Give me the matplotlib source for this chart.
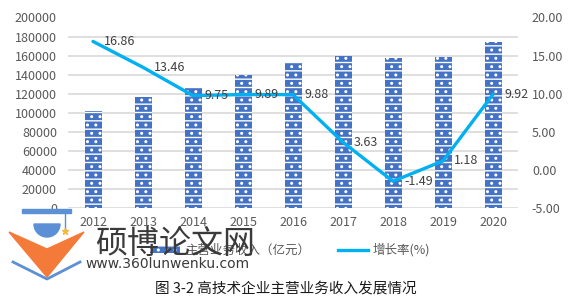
import matplotlib
matplotlib.use("Agg")
import matplotlib.pyplot as plt
from matplotlib.patches import Patch, Polygon, Wedge
from matplotlib.lines import Line2D

plt.rcParams['font.family'] = ['Noto Sans CJK SC', 'DejaVu Sans']
plt.rcParams['hatch.linewidth'] = 1.0

years = ['2012', '2013', '2014', '2015', '2016', '2017', '2018', '2019', '2020']
revenue = [102284, 116049, 127368, 139969, 153796, 159376, 157001, 158849, 174613]
growth = [16.86, 13.46, 9.75, 9.89, 9.88, 3.63, -1.49, 1.18, 9.92]
left_ticks = list(range(0, 200001, 20000))
right_ticks = [-5, 0, 5, 10, 15, 20]

tick_color = '#595959'
bar_color = '#4472C4'
line_color = '#00B0F0'
bar_hatch = '--..'

fig = plt.figure(figsize=(5.72, 3.0), dpi=100)
ax = fig.add_axes([68 / 572, 92 / 300, 450 / 572, 190.5 / 300])
x = range(len(years))

ax.bar(x, revenue, width=0.34, color=bar_color, edgecolor='white',
       hatch=bar_hatch, linewidth=0, zorder=2)
ax.set_xlim(-0.5, len(years) - 0.5)
ax.set_ylim(0, 200000)
ax.set_yticks(left_ticks)
ax.set_yticklabels([str(v) for v in left_ticks])
ax.set_xticks(list(x))
ax.set_xticklabels(years)
ax.grid(axis='y', color='#D9D9D9', linewidth=1.2, zorder=0)
ax.set_axisbelow(True)
for s in ax.spines.values():
    s.set_visible(False)
ax.tick_params(length=0, colors=tick_color, labelsize=9)
ax.tick_params(axis='x', pad=6)
ax.tick_params(axis='y', pad=8)

ax2 = ax.twinx()
ax2.plot(list(x), growth, color=line_color, linewidth=2.4, solid_capstyle='round',
         solid_joinstyle='round')
ax2.set_ylim(-5, 20)
ax2.set_yticks(right_ticks)
ax2.set_yticklabels(['%.2f' % v for v in right_ticks])
for s in ax2.spines.values():
    s.set_visible(False)
ax2.tick_params(length=0, colors=tick_color, labelsize=9, pad=10)
for i, g in enumerate(growth):
    ax2.annotate('%.2f' % g, (i, g), xytext=(8, 0), textcoords='offset points',
                 ha='left', va='center', fontsize=9, color='#404040')

handles = [Patch(facecolor=bar_color, edgecolor='white', hatch=bar_hatch, linewidth=0),
           Line2D([0], [0], color=line_color, linewidth=2.4)]
fig.legend(handles, ['主营业务收入（亿元）', '增长率(%)'], loc='center',
           bbox_to_anchor=(290 / 572, 1 - 250 / 300), ncol=2, frameon=False,
           fontsize=9, labelcolor=tick_color, handlelength=2.4, handleheight=0.5,
           handletextpad=0.4, columnspacing=2.2)

fig.text(0.5, 1 - 289 / 300, '图 3-2 高技术企业主营业务收入发展情况', ha='center', va='center',
         fontsize=10.5, color='#1a1a1a')

# watermark overlay
wm = fig.add_axes([0, 0, 1, 1], zorder=10)
wm.set_xlim(0, 572)
wm.set_ylim(300, 0)
wm.axis('off')
wm.add_patch(Polygon([(9, 232), (47, 249), (84, 232), (47, 277)], closed=True,
                     color='#F47A3A'))
wm.plot([13, 47, 80], [262, 279, 262], color='#5B8FD6', linewidth=2)
wm.add_patch(Polygon([(22, 209), (71, 209), (71, 213), (22, 213)], color='#5B8FD6'))
wm.add_patch(Wedge((47, 224), 13, 0, 180, color='#5B8FD6'))
wm.plot([65, 65], [213, 229], color='#5B8FD6', linewidth=1)
wm.plot([65], [231], marker='*', color='#F5B942', markersize=5)
wm.text(95, 244, '硕博论文网', fontsize=23, color='#3a3a3a', ha='left', va='center')
wm.text(85, 264, 'www.360lunwenku.com', fontsize=10, color='#3a3a3a', ha='left',
        va='center', family='DejaVu Sans')

fig.savefig('out.png', dpi=100)
